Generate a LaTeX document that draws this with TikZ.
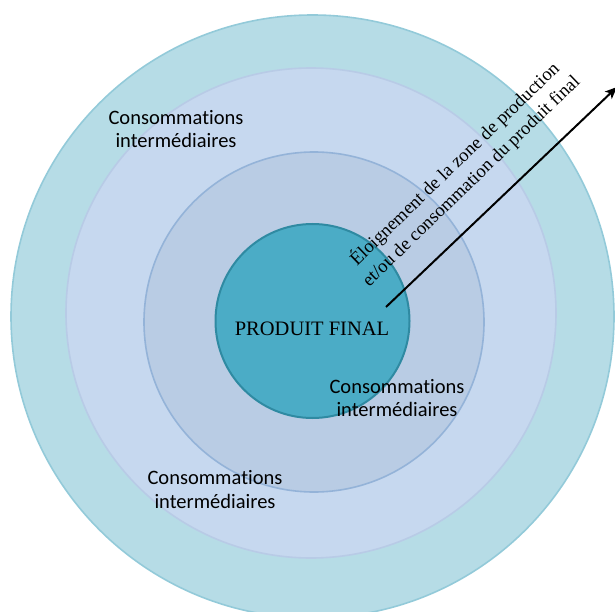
\documentclass[tikz,border=0pt]{standalone}
\usepackage{fontspec}
\setmainfont{Liberation Serif}
\newfontfamily\calib[Ligatures={NoCommon,NoDiscretionary,NoRare}]{Carlito}
\usetikzlibrary{arrows.meta}
\definecolor{ringA}{HTML}{B6DCE6}
\definecolor{ringAline}{HTML}{93CAD9}
\definecolor{ringB}{HTML}{C6D8EF}
\definecolor{ringBline}{HTML}{B8CBE6}
\definecolor{ringC}{HTML}{B9CCE4}
\definecolor{ringCline}{HTML}{94B3D8}
\definecolor{core}{HTML}{4BACC6}
\definecolor{coreline}{HTML}{2F8AA2}
\tikzset{
  disc/.style={circle, inner sep=0pt, line width=1.6pt},
  ctext/.style={font=\calib\fontsize{20.5}{23.5}\selectfont, align=center, anchor=base, inner sep=0pt},
  rtext/.style={font=\fontsize{18.6}{23.5}\selectfont, align=center, anchor=base, inner sep=0pt, rotate=44},
}
\begin{document}
\begin{tikzpicture}[x=1pt, y=-1pt]
\useasboundingbox (0,0) rectangle (615,612);
\clip (0,0) rectangle (615,612);
\node[disc, minimum size=603pt, fill=ringA, draw=ringAline] (outer) at (312.5,316.5) {};
\node[disc, minimum size=490pt, fill=ringB, draw=ringBline] (second) at (311,313) {};
\node[disc, minimum size=340pt, fill=ringC, draw=ringCline] (third) at (314,322) {};
\node[disc, minimum size=194pt, fill=core, draw=coreline, line width=2pt] (inner) at (312.5,321) {};
\node[font=\fontsize{20.5}{24}\selectfont, anchor=base, inner sep=0pt] (pf) at (312,335) {PRODUIT FINAL};
\node[ctext] (c1) at (176,148) {Consommations\\intermédiaires};
\node[ctext] (c2) at (397,416.5) {Consommations\\intermédiaires};
\node[ctext] (c3) at (215,508) {Consommations\\intermédiaires};
\node[rtext] (lab) at (475,185) {Éloignement de la zone de production\\et/ou de consommation du produit final};
\coordinate (as) at (386,307);
\coordinate (ae) at (617,87);
\draw[line width=2pt, -{Stealth[length=12pt, width=10pt, inset=3pt]}] (as) -- (ae);
\end{tikzpicture}
\end{document}
